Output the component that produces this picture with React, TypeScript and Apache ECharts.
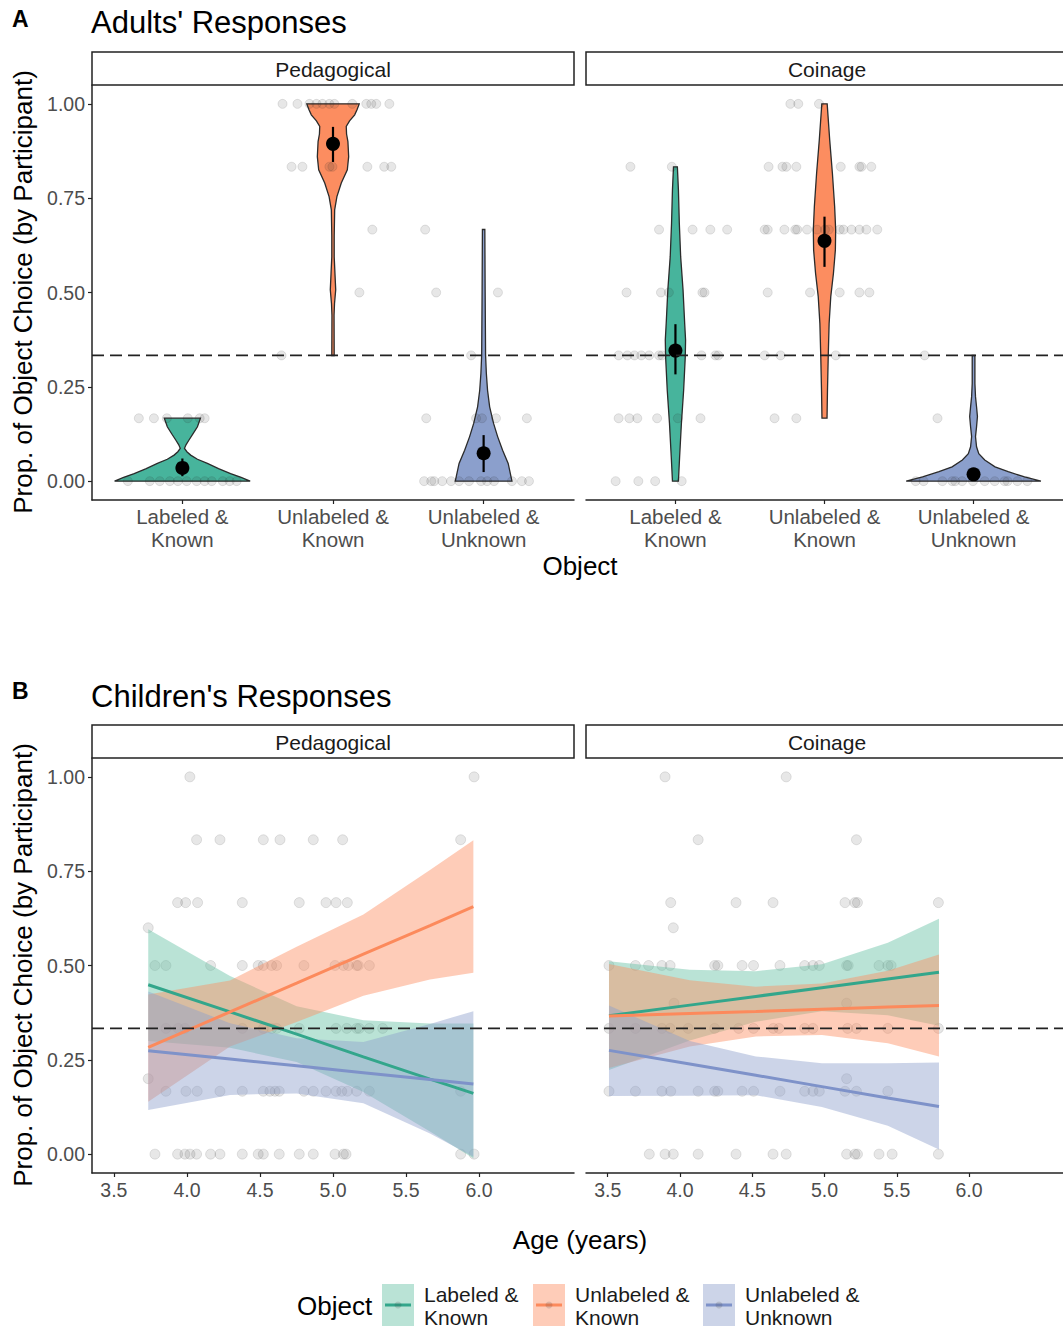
import React, { useEffect, useRef } from 'react';
import * as echarts from 'echarts';

// ---------- categories & labels ----------
const objectCats = ['Labeled &\nKnown', 'Unlabeled &\nKnown', 'Unlabeled &\nUnknown'];
const conditions = ['Pedagogical', 'Coinage'];
const yTicks = [0, 0.25, 0.5, 0.75, 1];
const ageTicks = [3.5, 4.0, 4.5, 5.0, 5.5, 6.0];
const catTicks = [1, 2, 3];
const chance = 1 / 3;

const fillColors = ['#66C2A5', '#FC8D62', '#8DA0CB'];
const violinColors = ['#47B49C', '#FC8D60', '#8B9FCC'];
const lineColors = ['#33A68B', '#FC8A5C', '#7E92C9'];

// ---------- Panel A: violin profiles [value, half width (category units)] ----------
const pedViolinLK = [[0, 0.45], [0.01, 0.39], [0.02, 0.32], [0.033, 0.24], [0.047, 0.166], [0.058, 0.1], [0.069, 0.055], [0.078, 0.03], [0.087, 0.014], [0.097, 0.025], [0.109, 0.044], [0.125, 0.07], [0.144, 0.1], [0.167, 0.12]];
const pedViolinULK = [[0.333, 0.008], [0.44, 0.007], [0.47, 0.01], [0.507, 0.018], [0.55, 0.013], [0.595, 0.008], [0.65, 0.008], [0.719, 0.011], [0.754, 0.026], [0.79, 0.055], [0.825, 0.095], [0.86, 0.104], [0.9, 0.099], [0.92, 0.09], [0.94, 0.088], [0.955, 0.11], [0.971, 0.144], [0.985, 0.16], [1.0, 0.174]];
const pedViolinULU = [[0, 0.188], [0.047, 0.163], [0.082, 0.126], [0.118, 0.093], [0.153, 0.066], [0.197, 0.04], [0.241, 0.026], [0.286, 0.018], [0.334, 0.013], [0.507, 0.01], [0.667, 0.008]];
const coinViolinLK = [[0, 0.02], [0.064, 0.028], [0.153, 0.04], [0.241, 0.055], [0.33, 0.066], [0.374, 0.068], [0.418, 0.062], [0.507, 0.051], [0.595, 0.035], [0.684, 0.026], [0.772, 0.02], [0.833, 0.013]];
const coinViolinULK = [[0.167, 0.017], [0.241, 0.02], [0.33, 0.025], [0.418, 0.031], [0.489, 0.042], [0.551, 0.06], [0.613, 0.073], [0.666, 0.075], [0.728, 0.068], [0.816, 0.053], [0.904, 0.035], [1.0, 0.018]];
const coinViolinULU = [[0, 0.452], [0.011, 0.342], [0.025, 0.232], [0.038, 0.144], [0.056, 0.075], [0.073, 0.035], [0.091, 0.02], [0.118, 0.013], [0.144, 0.02], [0.171, 0.026], [0.197, 0.02], [0.224, 0.013], [0.259, 0.009], [0.333, 0.009]];

// means and error bars
const pedMeans = [0.035, 0.894, 0.074];
const pedLow = [0.013, 0.846, 0.024];
const pedHigh = [0.06, 0.939, 0.122];
const coinMeans = [0.346, 0.637, 0.018];
const coinLow = [0.283, 0.568, 0.005];
const coinHigh = [0.416, 0.701, 0.03];

// jittered participant points: [proportion, x positions on category scale]
const adultPedPoints: [number, number[]][] = [
  [1, [1.665, 1.764, 1.844, 1.89, 1.93, 1.976, 2.009, 2.128, 2.221, 2.254, 2.287, 2.374]],
  [5 / 6, [1.725, 1.797, 1.976, 1.996, 2.228, 2.34, 2.387]],
  [2 / 3, [2.261, 2.612]],
  [0.5, [2.175, 2.685, 3.095]],
  [1 / 3, [1.658, 2.917]],
  [1 / 6, [0.711, 0.811, 0.897, 1.036, 1.115, 1.148, 2.619, 2.95, 2.989, 3.082, 3.287]],
  [0, [0.638, 0.784, 0.85, 0.917, 0.97, 1.029, 1.095, 1.148, 1.195, 1.268, 1.314, 1.36, 2.605, 2.652, 2.672, 2.725, 2.784, 2.837, 2.903, 2.983, 3.023, 3.069, 3.188, 3.254, 3.301]],
];
const adultCoinPoints: [number, number[]][] = [
  [1, [1.771, 1.824, 1.963]],
  [5 / 6, [0.698, 0.976, 1.625, 1.718, 1.744, 1.811, 2.109, 2.234, 2.248, 2.314]],
  [2 / 3, [0.89, 1.115, 1.234, 1.347, 1.599, 1.619, 1.731, 1.804, 1.817, 1.883, 1.95, 2.003, 2.029, 2.102, 2.128, 2.181, 2.234, 2.281, 2.354]],
  [0.5, [0.672, 0.903, 0.956, 1.181, 1.195, 1.619, 1.903, 2.102, 2.234, 2.301]],
  [1 / 3, [0.619, 0.678, 0.725, 0.771, 0.824, 0.89, 0.91, 1.175, 1.268, 1.287, 1.599, 1.705, 2.076, 2.672]],
  [1 / 6, [0.619, 0.691, 0.744, 0.877, 1.016, 1.168, 1.665, 1.811, 2.758]],
  [0, [0.599, 0.751, 0.864, 1.042, 2.612, 2.665, 2.791, 2.857, 2.877, 2.923, 2.996, 3.075, 3.142, 3.208, 3.228, 3.294, 3.36]],
];

// ---------- Panel B: children, [proportion, ages] ----------
const childPedPoints: [number, number[]][] = [
  [1, [4.02, 5.966]],
  [5 / 6, [4.066, 4.226, 4.523, 4.637, 4.865, 5.066, 5.874]],
  [2 / 3, [3.936, 3.991, 4.073, 4.379, 4.769, 4.952, 5.021, 5.098]],
  [0.6, [3.735]],
  [0.5, [3.781, 3.856, 4.162, 4.379, 4.488, 4.523, 4.58, 4.614, 4.801, 5.014, 5.071, 5.105, 5.162, 5.173, 5.249]],
  [1 / 3, [3.856, 3.94, 3.986, 4.379, 4.523, 4.58, 4.614, 4.769, 5.021, 5.094, 5.162, 5.18, 5.249, 5.34]],
  [0.2, [3.735]],
  [1 / 6, [3.856, 3.993, 4.07, 4.226, 4.379, 4.523, 4.568, 4.603, 4.632, 4.801, 4.865, 4.952, 5.021, 5.06, 5.098, 5.162, 5.249, 5.874]],
  [0, [3.781, 3.936, 3.986, 4.021, 4.066, 4.162, 4.226, 4.379, 4.488, 4.523, 4.632, 4.769, 4.865, 5.014, 5.071, 5.089, 5.874, 5.966]],
];
const childCoinPoints: [number, number[]][] = [
  [1, [3.897, 4.735]],
  [5 / 6, [4.126, 5.221]],
  [2 / 3, [3.936, 4.388, 4.644, 5.142, 5.21, 5.228, 5.788]],
  [0.6, [3.954]],
  [0.5, [3.509, 3.692, 3.783, 3.875, 3.932, 4.24, 4.262, 4.43, 4.509, 4.692, 4.863, 4.92, 4.964, 5.153, 5.164, 5.377, 5.438, 5.461]],
  [0.4, [3.959, 5.153]],
  [1 / 3, [3.509, 3.692, 3.875, 3.932, 4.057, 4.24, 4.406, 4.509, 4.646, 4.685, 4.863, 4.92, 5.16, 5.221, 5.438, 5.788]],
  [0.2, [5.153]],
  [1 / 6, [3.509, 3.692, 3.875, 3.936, 4.126, 4.24, 4.262, 4.43, 4.509, 4.692, 4.863, 4.92, 4.964, 5.142, 5.221, 5.438]],
  [0, [3.788, 3.897, 3.954, 4.126, 4.388, 4.644, 4.735, 5.153, 5.21, 5.228, 5.377, 5.468, 5.788]],
];

// fitted lines and confidence bands
const pedFitAges = [3.735, 4.295, 4.751, 5.208, 5.664, 5.961];
const pedFitLK = [0.449, 0.377, 0.318, 0.258, 0.199, 0.161];
const pedLowLK = [0.3, 0.282, 0.244, 0.165, 0.06, -0.011];
const pedHighLK = [0.596, 0.472, 0.392, 0.355, 0.346, 0.346];
const pedFitULK = [0.283, 0.377, 0.453, 0.53, 0.606, 0.656];
const pedLowULK = [0.139, 0.285, 0.35, 0.42, 0.463, 0.481];
const pedHighULK = [0.423, 0.46, 0.55, 0.635, 0.753, 0.832];
const pedFitULU = [0.274, 0.252, 0.234, 0.216, 0.198, 0.186];
const pedLowULU = [0.117, 0.157, 0.161, 0.135, 0.055, -0.007];
const pedHighULU = [0.431, 0.347, 0.307, 0.297, 0.345, 0.379];

const coinFitAges = [3.509, 4.068, 4.525, 4.982, 5.438, 5.792];
const coinFitLK = [0.367, 0.395, 0.418, 0.441, 0.464, 0.482];
const coinLowLK = [0.223, 0.301, 0.351, 0.379, 0.368, 0.34];
const coinHighLK = [0.511, 0.489, 0.485, 0.503, 0.56, 0.624];
const coinFitULK = [0.366, 0.373, 0.378, 0.384, 0.39, 0.394];
const coinLowULK = [0.228, 0.285, 0.312, 0.316, 0.294, 0.259];
const coinHighULK = [0.504, 0.461, 0.444, 0.452, 0.486, 0.529];
const coinFitULU = [0.275, 0.239, 0.209, 0.179, 0.149, 0.126];
const coinLowULU = [0.154, 0.155, 0.156, 0.125, 0.075, 0.012];
const coinHighULU = [0.394, 0.3, 0.259, 0.241, 0.241, 0.243];

// ---------- helpers ----------
const FONT = '"Liberation Sans", Arial, Helvetica, sans-serif';
const AXIS_COLOR = '#222';
const TICK_TEXT = '#4d4d4d';

function hexToRgba(hex: string, a: number) {
  const n = parseInt(hex.slice(1), 16);
  return `rgba(${(n >> 16) & 255},${(n >> 8) & 255},${n & 255},${a})`;
}

function flatten(levels: [number, number[]][]) {
  const out: number[][] = [];
  levels.forEach(([y, xs]) => xs.forEach((x) => out.push([x, y])));
  return out;
}

const yAxisBase = (gridIndex: number, show: boolean) => ({
  gridIndex,
  type: 'value',
  min: -0.05,
  max: 1.05,
  show,
  splitLine: { show: false },
  axisLine: { show: true, lineStyle: { color: AXIS_COLOR, width: 1.5 } },
  axisTick: { show: true, customValues: yTicks, length: 4, lineStyle: { color: AXIS_COLOR, width: 1.2 } },
  axisLabel: {
    customValues: yTicks,
    formatter: (v: number) => v.toFixed(2),
    color: TICK_TEXT,
    fontSize: 19.5,
    fontFamily: FONT,
    margin: 7,
  },
});

function buildOption() {
  const grids = [
    { left: 92, top: 85, width: 482, height: 415 },
    { left: 586, top: 85, width: 482, height: 415 },
    { left: 92, top: 758, width: 482, height: 415 },
    { left: 586, top: 758, width: 482, height: 415 },
  ];

  const catAxis = (gridIndex: number) => ({
    gridIndex,
    type: 'value',
    min: 0.4,
    max: 3.6,
    splitLine: { show: false },
    axisLine: { show: true, onZero: false, lineStyle: { color: AXIS_COLOR, width: 1.5 } },
    axisTick: { show: true, customValues: catTicks, length: 4, lineStyle: { color: AXIS_COLOR, width: 1.2 } },
    axisLabel: {
      customValues: catTicks,
      formatter: (v: number) => objectCats[Math.round(v) - 1],
      color: TICK_TEXT,
      fontSize: 20.5,
      lineHeight: 23,
      fontFamily: FONT,
      margin: 5,
    },
  });
  const ageAxis = (gridIndex: number) => ({
    gridIndex,
    type: 'value',
    min: 3.35,
    max: 6.65,
    splitLine: { show: false },
    axisLine: { show: true, onZero: false, lineStyle: { color: AXIS_COLOR, width: 1.5 } },
    axisTick: { show: true, customValues: ageTicks, length: 4, lineStyle: { color: AXIS_COLOR, width: 1.2 } },
    axisLabel: {
      customValues: ageTicks,
      formatter: (v: number) => v.toFixed(1),
      color: TICK_TEXT,
      fontSize: 19.5,
      fontFamily: FONT,
      margin: 7,
    },
  });

  const series: any[] = [];

  // ----- Panel A -----
  const adultFacets = [
    { violins: [pedViolinLK, pedViolinULK, pedViolinULU], means: pedMeans, lo: pedLow, hi: pedHigh, pts: adultPedPoints },
    { violins: [coinViolinLK, coinViolinULK, coinViolinULU], means: coinMeans, lo: coinLow, hi: coinHigh, pts: adultCoinPoints },
  ];
  adultFacets.forEach((f, fi) => {
    const profiles = f.violins;
    series.push({
      type: 'custom',
      xAxisIndex: fi,
      yAxisIndex: fi,
      silent: true,
      z: 2,
      data: profiles.map((p, i) => [catTicks[i], p[0][0], p[p.length - 1][0]]),
      encode: { x: 0, y: [1, 2] },
      renderItem: (params: any, api: any) => {
        const i = params.dataIndex;
        const prof = profiles[i];
        const cx = api.value(0);
        const right = prof.map(([v, w]) => api.coord([cx + w, v]));
        const left = prof.slice().reverse().map(([v, w]) => api.coord([cx - w, v]));
        return {
          type: 'polygon',
          shape: { points: right.concat(left) },
          style: { fill: violinColors[i], stroke: '#2b2b2b', lineWidth: 1.3 },
        };
      },
    });
    series.push({
      type: 'scatter',
      xAxisIndex: fi,
      yAxisIndex: fi,
      silent: true,
      z: 3,
      symbolSize: 9,
      itemStyle: { color: 'rgba(40,40,40,0.14)', borderColor: 'rgba(40,40,40,0.15)', borderWidth: 1 },
      data: flatten(f.pts),
    });
    series.push({
      type: 'custom',
      xAxisIndex: fi,
      yAxisIndex: fi,
      silent: true,
      z: 4,
      data: f.means.map((m, i) => [catTicks[i], f.lo[i], f.hi[i]]),
      encode: { x: 0, y: [1, 2] },
      renderItem: (params: any, api: any) => {
        const p1 = api.coord([api.value(0), api.value(1)]);
        const p2 = api.coord([api.value(0), api.value(2)]);
        return {
          type: 'line',
          shape: { x1: p1[0], y1: p1[1], x2: p2[0], y2: p2[1] },
          style: { stroke: '#000', lineWidth: 2.2 },
        };
      },
    });
    series.push({
      type: 'scatter',
      xAxisIndex: fi,
      yAxisIndex: fi,
      silent: true,
      z: 5,
      symbolSize: 14,
      itemStyle: { color: '#000', opacity: 1 },
      data: f.means.map((m, i) => [catTicks[i], m]),
    });
    series.push({
      type: 'line',
      xAxisIndex: fi,
      yAxisIndex: fi,
      silent: true,
      z: 6,
      symbol: 'none',
      lineStyle: { color: '#222', width: 1.8, type: [12, 6] },
      data: [[0.4, chance], [3.6, chance]],
    });
  });

  // ----- Panel B -----
  const childFacets = [
    {
      ages: pedFitAges,
      fits: [pedFitLK, pedFitULK, pedFitULU],
      lows: [pedLowLK, pedLowULK, pedLowULU],
      highs: [pedHighLK, pedHighULK, pedHighULU],
      pts: childPedPoints,
    },
    {
      ages: coinFitAges,
      fits: [coinFitLK, coinFitULK, coinFitULU],
      lows: [coinLowLK, coinLowULK, coinLowULU],
      highs: [coinHighLK, coinHighULK, coinHighULU],
      pts: childCoinPoints,
    },
  ];
  childFacets.forEach((f, k) => {
    const ax = k + 2;
    series.push({
      type: 'scatter',
      xAxisIndex: ax,
      yAxisIndex: ax,
      silent: true,
      z: 2,
      symbolSize: 10,
      itemStyle: { color: 'rgba(40,40,40,0.14)', borderColor: 'rgba(40,40,40,0.15)', borderWidth: 1 },
      data: flatten(f.pts),
    });
    f.fits.forEach((fit, g) => {
      const lows = f.lows[g];
      const highs = f.highs[g];
      const ages = f.ages;
      series.push({
        type: 'custom',
        xAxisIndex: ax,
        yAxisIndex: ax,
        silent: true,
        z: 3,
        clip: true,
        data: [[ages[0], Math.min(...lows), Math.max(...highs)], [ages[ages.length - 1], Math.min(...lows), Math.max(...highs)]],
        encode: { x: 0, y: [1, 2] },
        renderItem: (params: any, api: any) => {
          if (params.dataIndex !== 0) return null;
          const up = ages.map((a, j) => api.coord([a, highs[j]]));
          const dn = ages.map((a, j) => api.coord([a, lows[j]])).reverse();
          return {
            type: 'polygon',
            shape: { points: up.concat(dn), smooth: 0 },
            style: { fill: hexToRgba(fillColors[g], 0.45), stroke: 'none' },
          };
        },
      });
      series.push({
        type: 'line',
        xAxisIndex: ax,
        yAxisIndex: ax,
        silent: true,
        z: 3,
        symbol: 'none',
        lineStyle: { color: lineColors[g], width: 3 },
        data: ages.map((a, j) => [a, fit[j]]),
      });
    });
    series.push({
      type: 'line',
      xAxisIndex: ax,
      yAxisIndex: ax,
      silent: true,
      z: 6,
      symbol: 'none',
      lineStyle: { color: '#222', width: 1.8, type: [12, 6] },
      data: [[3.35, chance], [6.65, chance]],
    });
  });

  // ----- graphics: titles, strips, axis titles, legend -----
  const txt = (text: string, x: number, y: number, fontSize: number, extra: any = {}) => ({
    type: 'text',
    x,
    y,
    silent: true,
    z: 10,
    ...(extra.rotation ? { rotation: extra.rotation } : {}),
    style: {
      text,
      fontSize,
      fontFamily: FONT,
      fill: extra.fill || '#000',
      fontWeight: extra.fontWeight || 'normal',
      align: extra.align || 'left',
      verticalAlign: 'middle',
      lineHeight: extra.lineHeight,
    },
  });

  const graphic: any[] = [];
  graphic.push(txt('A', 12, 19, 23, { fontWeight: 'bold' }));
  graphic.push(txt("Adults' Responses", 91, 22, 31));
  graphic.push(txt('B', 12, 691, 23, { fontWeight: 'bold' }));
  graphic.push(txt("Children's Responses", 91, 696, 31));

  const stripTops = [52, 725];
  stripTops.forEach((top) => {
    [92, 586].forEach((left, ci) => {
      graphic.push({
        type: 'rect',
        silent: true,
        z: 9,
        shape: { x: left, y: top, width: 482, height: 33 },
        style: { fill: '#fff', stroke: '#222', lineWidth: 1.5 },
      });
      graphic.push(txt(conditions[ci], left + 241, top + 17, 21, { align: 'center', fill: '#1a1a1a' }));
    });
  });

  const yTitle = 'Prop. of Object Choice (by Participant)';
  graphic.push(txt(yTitle, 23, 292, 26, { align: 'center', rotation: Math.PI / 2 }));
  graphic.push(txt(yTitle, 23, 965, 26, { align: 'center', rotation: Math.PI / 2 }));
  graphic.push(txt('Object', 580, 566, 26, { align: 'center' }));
  graphic.push(txt('Age (years)', 580, 1240, 26, { align: 'center' }));

  // legend
  graphic.push(txt('Object', 297, 1306, 26));
  const keyX = [382, 533, 703];
  keyX.forEach((kx, i) => {
    graphic.push({
      type: 'rect',
      silent: true,
      z: 9,
      shape: { x: kx, y: 1284, width: 32, height: 42 },
      style: { fill: hexToRgba(fillColors[i], 0.45) },
    });
    graphic.push({
      type: 'line',
      silent: true,
      z: 10,
      shape: { x1: kx + 3, y1: 1305, x2: kx + 29, y2: 1305 },
      style: { stroke: lineColors[i], lineWidth: 3 },
    });
    graphic.push({
      type: 'circle',
      silent: true,
      z: 11,
      shape: { cx: kx + 16, cy: 1305, r: 3.5 },
      style: { fill: 'rgba(40,40,40,0.15)' },
    });
    graphic.push(txt(objectCats[i], kx + 42, 1306, 21, { lineHeight: 23, fill: '#1a1a1a' }));
  });

  return {
    animation: false,
    backgroundColor: '#fff',
    grid: grids,
    xAxis: [catAxis(0), catAxis(1), ageAxis(2), ageAxis(3)],
    yAxis: [yAxisBase(0, true), yAxisBase(1, false), yAxisBase(2, true), yAxisBase(3, false)],
    series,
    graphic,
  };
}

export default function App() {
  const ref = useRef<HTMLDivElement>(null);
  useEffect(() => {
    const chart = echarts.init(ref.current as HTMLDivElement, null, { renderer: 'svg', width: 1063, height: 1328 });
    chart.setOption(buildOption() as any);
    return () => chart.dispose();
  }, []);
  return (
    <div
      ref={ref}
      style={{ position: 'absolute', left: 0, top: 0, width: 1063, height: 1328, background: '#fff' }}
    />
  );
}
